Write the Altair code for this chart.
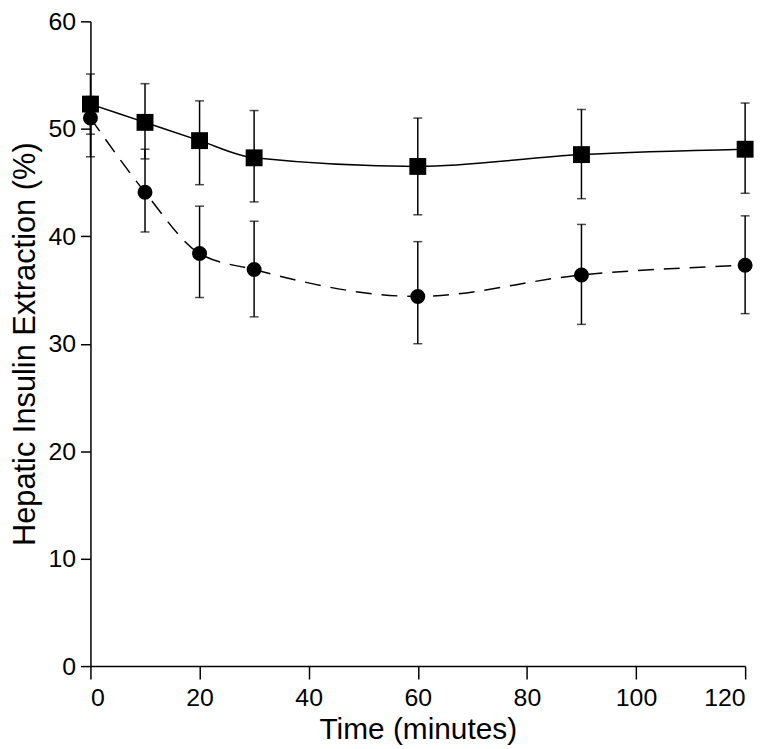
import altair as alt
import pandas as pd

# Data
time = [0, 10, 20, 30, 60, 90, 120]

sq_mean = [52.3, 50.6, 48.9, 47.3, 46.5, 47.6, 48.1]
sq_upper = [55.1, 54.2, 52.6, 51.7, 51.0, 51.8, 52.4]
sq_lower = [49.5, 47.2, 44.8, 43.2, 42.0, 43.5, 44.0]

ci_mean = [51.0, 44.1, 38.4, 36.9, 34.4, 36.4, 37.3]
ci_upper = [53.0, 48.1, 42.8, 41.4, 39.5, 41.1, 41.9]
ci_lower = [47.4, 40.4, 34.3, 32.5, 30.0, 31.8, 32.8]

x_ticks = [0, 20, 40, 60, 80, 100, 120]
y_ticks = [0, 10, 20, 30, 40, 50, 60]

df_sq = pd.DataFrame({"time": time, "mean": sq_mean, "lo": sq_lower, "hi": sq_upper})
df_ci = pd.DataFrame({"time": time, "mean": ci_mean, "lo": ci_lower, "hi": ci_upper})

FONT = "Liberation Sans"

x_enc = alt.X(
    "time:Q",
    scale=alt.Scale(domain=[0, 120], nice=False, zero=False),
    axis=alt.Axis(
        values=x_ticks, title="Time (minutes)", tickSize=13, labelPadding=7,
        labelFontSize=25, titleFontSize=30, titlePadding=4,
    ),
)
y_enc = alt.Y(
    "mean:Q",
    scale=alt.Scale(domain=[0, 60], nice=False),
    axis=alt.Axis(
        values=y_ticks, title="Hepatic Insulin Extraction (%)", tickSize=10,
        labelPadding=5, labelFontSize=25, titleFontSize=31, titlePadding=7,
    ),
)


def series(df, shape, size, dash):
    base = alt.Chart(df)
    line_kwargs = dict(color="black", strokeWidth=1.5, interpolate="monotone")
    if dash:
        line_kwargs["strokeDash"] = dash
    line = base.mark_line(**line_kwargs).encode(x=x_enc, y=y_enc)
    rule = base.mark_rule(color="black", strokeWidth=1.5).encode(
        x="time:Q", y="lo:Q", y2="hi:Q"
    )
    cap_hi = base.mark_tick(color="black", orient="horizontal", size=9, thickness=1.5).encode(
        x="time:Q", y="hi:Q"
    )
    cap_lo = base.mark_tick(color="black", orient="horizontal", size=9, thickness=1.5).encode(
        x="time:Q", y="lo:Q"
    )
    pts = base.mark_point(shape=shape, filled=True, size=size, color="black", opacity=1).encode(
        x="time:Q", y="mean:Q"
    )
    return [line, rule, cap_hi, cap_lo, pts]


layers = series(df_ci, "circle", 227, [16, 10]) + series(df_sq, "square", 289, None)

chart = (
    alt.layer(*layers)
    .properties(
        width=659,
        height=649,
        autosize=alt.AutoSizeParams(type="none"),
        padding={"left": 83, "top": 11, "right": 20, "bottom": 80},
    )
    .configure_view(stroke=None)
    .configure_axis(
        grid=False,
        domainColor="black",
        domainWidth=1.5,
        tickColor="black",
        tickWidth=1.5,
        labelColor="black",
        titleColor="black",
        labelFont=FONT,
        titleFont=FONT,
        titleFontWeight="normal",
    )
)

chart.save("out.html", embed_options={"renderer": "svg", "actions": False})
